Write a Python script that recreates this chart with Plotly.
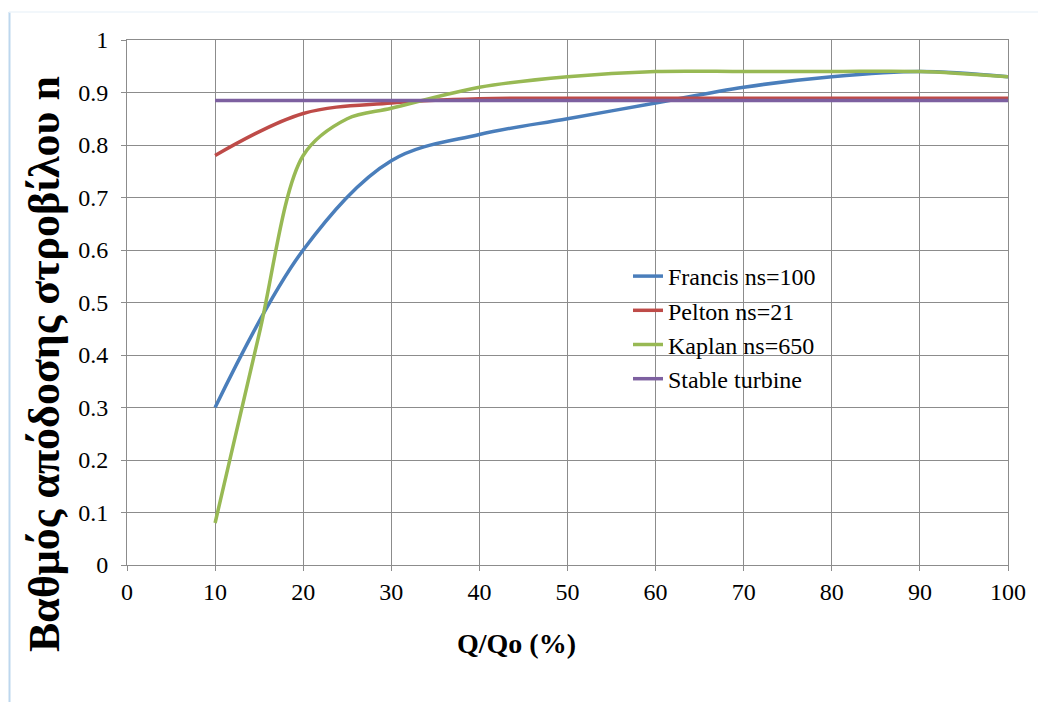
import plotly.graph_objects as go

q = [10, 20, 30, 40, 50, 60, 70, 80, 90, 100]
francis = [0.30, 0.60, 0.77, 0.82, 0.85, 0.88, 0.91, 0.93, 0.94, 0.93]
pelton = [0.78, 0.86, 0.88, 0.888, 0.889, 0.889, 0.889, 0.889, 0.889, 0.889]
kaplan_q = [10, 15, 20, 25, 30, 40, 50, 60, 70, 80, 90, 100]
kaplan = [0.08, 0.44, 0.78, 0.85, 0.87, 0.91, 0.93, 0.94, 0.94, 0.94, 0.94, 0.93]
stable = [0.885] * 10

names = ["Francis ns=100", "Pelton ns=21", "Kaplan ns=650", "Stable turbine"]
colors = ["#4A7EBB", "#BE4B48", "#98B954", "#7D60A0"]
xs = [q, q, kaplan_q, q]
series = [francis, pelton, kaplan, stable]
smooth = [1.0, 1.0, 0.9, 1.0]

x_ticks = list(range(0, 101, 10))
y_ticks = [0, 0.1, 0.2, 0.3, 0.4, 0.5, 0.6, 0.7, 0.8, 0.9, 1]
y_tick_text = ["0", "0.1", "0.2", "0.3", "0.4", "0.5", "0.6", "0.7", "0.8", "0.9", "1"]

FONT = "'Liberation Serif', 'Times New Roman', Times, serif"

fig = go.Figure()
for i in [0, 1, 2, 3]:
    fig.add_trace(go.Scatter(
        x=xs[i], y=series[i], name=names[i], mode="lines",
        line=dict(color=colors[i], width=3.5, shape="spline", smoothing=smooth[i]),
        legendgroup=names[i],
    ))

# page has an 8px body margin; work in page pixel coords
OFF = 8
W, H = 1046, 702
L, R, T, B = 127, 1008, 40, 565
pw, ph = R - L, B - T


def px(xp):
    return (xp - L) / pw


def py(yp):
    return (B - yp) / ph


fig.update_layout(
    width=W, height=H,
    margin=dict(l=L - OFF, r=W - (R - OFF), t=T - OFF, b=H - (B - OFF)),
    paper_bgcolor="white", plot_bgcolor="white",
    font=dict(family=FONT, size=24, color="black"),
    showlegend=True,
    legend=dict(
        x=px(628), y=py(254), xanchor="left", yanchor="top",
        bgcolor="rgba(0,0,0,0)", font=dict(family=FONT, size=24, color="black"),
        tracegroupgap=17, traceorder="normal",
    ),
    xaxis=dict(
        range=[0, 100], tickvals=x_ticks, ticktext=[str(v) for v in x_ticks],
        showgrid=True, gridcolor="#8c8c8c", gridwidth=1,
        showline=True, linecolor="#8c8c8c", linewidth=1, mirror=True,
        ticks="outside", ticklen=5, tickcolor="#8c8c8c",
        tickfont=dict(family=FONT, size=24), zeroline=False,
    ),
    yaxis=dict(
        range=[0, 1], tickvals=y_ticks, ticktext=y_tick_text,
        showgrid=True, gridcolor="#8c8c8c", gridwidth=1,
        showline=True, linecolor="#8c8c8c", linewidth=1, mirror=True,
        ticks="outside", ticklen=5, tickcolor="#8c8c8c",
        tickfont=dict(family=FONT, size=24), zeroline=False,
        ticklabelstandoff=8,
    ),
    annotations=[
        dict(text="<b>Q/Qo (%)</b>", x=px(516), y=py(643), xref="paper", yref="paper",
             xanchor="center", yanchor="middle", showarrow=False,
             font=dict(family=FONT, size=28, color="black")),
        dict(text="<b>Βαθμός απόδοσης στροβίλου n</b>", x=px(44), y=py(364),
             xref="paper", yref="paper", xanchor="center", yanchor="middle",
             showarrow=False, textangle=-90,
             font=dict(family=FONT, size=44, color="black")),
    ],
    shapes=[
        dict(type="line", xref="paper", yref="paper", x0=px(9.5), x1=px(9.5),
             y0=py(12), y1=py(702), line=dict(color="#BDD7EE", width=2)),
        dict(type="line", xref="paper", yref="paper", x0=px(9), x1=px(1046),
             y0=py(12), y1=py(12), line=dict(color="#EEF4FA", width=1.5)),
    ],
)

fig.write_html("out.html")
